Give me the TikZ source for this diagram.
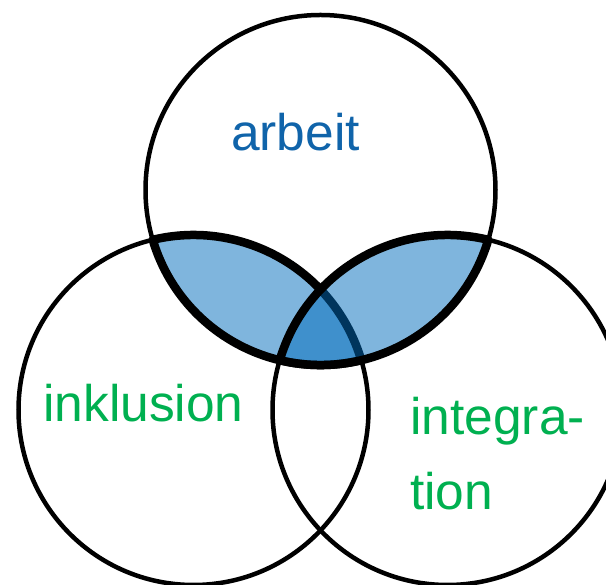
\documentclass[tikz,border=0pt]{standalone}
\usepackage{fontspec}
\setmainfont{Liberation Sans}
\usetikzlibrary{calc}
\definecolor{lensblue}{HTML}{006BBB}
\definecolor{textblue}{HTML}{1064AA}
\definecolor{textgreen}{HTML}{00B050}
\tikzset{
  ring/.style={draw=black, line width=4.5pt},
  lens/.style={fill=lensblue, fill opacity=0.5, draw=black, draw opacity=1, line width=8.5pt, line join=round},
  label/.style={anchor=base west, inner sep=0pt, font=\fontsize{51.5}{60}\selectfont}
}
\begin{document}
\begin{tikzpicture}[x=1pt,y=1pt]
\useasboundingbox (0,0) rectangle (606,585);
\clip (0,0) rectangle (606,585);
\coordinate (A) at (320.5,395);
\coordinate (L) at (193.5,175);
\coordinate (R) at (447.5,175);
\coordinate (P1) at ($(L)+(103.47:175)$);
\coordinate (Q1) at ($(R)+(76.53:175)$);
% thin circles
\draw[ring] (A) circle[radius=175pt];
\draw[ring] (L) circle[radius=175pt];
\draw[ring] (R) circle[radius=175pt];
% left lens (top & left)
\path[lens] (P1) arc[start angle=103.47, end angle=16.53, radius=175pt]
  arc[start angle=283.47, end angle=196.53, radius=175pt] -- cycle;
% right lens (top & right)
\path[lens] (Q1) arc[start angle=76.53, end angle=163.47, radius=175pt]
  arc[start angle=256.53, end angle=343.47, radius=175pt] -- cycle;
% labels
\node[label, text=textblue] (arbeit) at (231,434) {arbeit};
\node[label, text=textgreen] (inklusion) at (43,163) {inklusion};
\node[label, text=textgreen] (integra) at (410,150) {integra-};
\node[label, text=textgreen] (tion) at (410,75) {tion};
\end{tikzpicture}
\end{document}
